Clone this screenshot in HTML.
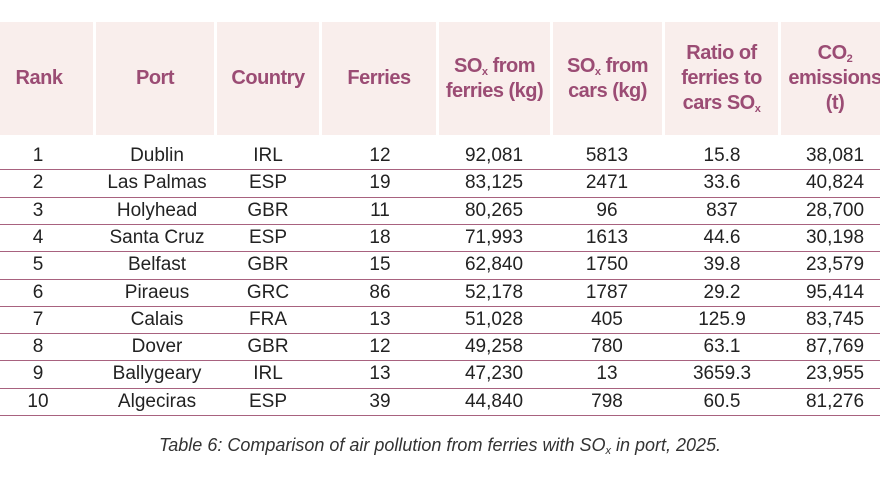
<!DOCTYPE html>
<html><head><meta charset="utf-8"><style>
body{margin:0;width:880px;height:495px;background:#fff;overflow:hidden;font-family:"Liberation Sans",sans-serif;position:relative}
.hb{position:absolute;top:22px;height:113px;background:#f9eeec}
.h{position:absolute;top:22px;height:113px;display:flex;align-items:center;justify-content:center;text-align:center;color:#9b4c74;font-weight:bold;font-size:20px;line-height:25px;letter-spacing:-0.5px;white-space:nowrap}
.r{position:absolute;left:0;width:880px;height:27.4px;border-bottom:1.5px solid #a8627f;box-sizing:border-box}
.c{position:absolute;top:0;height:26px;line-height:26px;text-align:center;font-size:19px;color:#222}
sub{font-size:11px;vertical-align:-3px;line-height:0}
.cap{position:absolute;top:435px;left:0;width:880px;text-align:center;font-style:italic;font-size:18px;color:#333}
</style></head><body>
<div class="hb" style="left:0;width:93px"></div>
<div class="hb" style="left:96px;width:118px"></div>
<div class="hb" style="left:217px;width:102px"></div>
<div class="hb" style="left:322px;width:114px"></div>
<div class="hb" style="left:439px;width:111px"></div>
<div class="hb" style="left:553px;width:109px"></div>
<div class="hb" style="left:665px;width:113px"></div>
<div class="hb" style="left:781px;width:99px"></div>
<div class="h" style="left:0;width:78px"><div>Rank</div></div>
<div class="h" style="left:96px;width:118px"><div>Port</div></div>
<div class="h" style="left:217px;width:102px"><div>Country</div></div>
<div class="h" style="left:322px;width:114px"><div>Ferries</div></div>
<div class="h" style="left:437px;width:115px"><div>SO<sub>x</sub> from<br>ferries (kg)</div></div>
<div class="h" style="left:551px;width:113px"><div>SO<sub>x</sub> from<br>cars (kg)</div></div>
<div class="h" style="left:663px;width:117px"><div>Ratio of<br>ferries to<br>cars SO<sub>x</sub></div></div>
<div class="h" style="left:779px;width:112px"><div>CO<sub>2</sub><br>emissions<br>(t)</div></div>
<div id="rows"></div>
<div class="cap">Table 6: Comparison of air pollution from ferries with SO<sub>x</sub> in port, 2025.</div>
<script>
var d=[["1","Dublin","IRL","12","92,081","5813","15.8","38,081"],["2","Las Palmas","ESP","19","83,125","2471","33.6","40,824"],["3","Holyhead","GBR","11","80,265","96","837","28,700"],["4","Santa Cruz","ESP","18","71,993","1613","44.6","30,198"],["5","Belfast","GBR","15","62,840","1750","39.8","23,579"],["6","Piraeus","GRC","86","52,178","1787","29.2","95,414"],["7","Calais","FRA","13","51,028","405","125.9","83,745"],["8","Dover","GBR","12","49,258","780","63.1","87,769"],["9","Ballygeary","IRL","13","47,230","13","3659.3","23,955"],["10","Algeciras","ESP","39","44,840","798","60.5","81,276"]];
var cx=[38,157,268,380,494,607,722,835],h="";
d.forEach(function(r,i){h+='<div class="r" style="top:'+(143+i*27.3)+'px">';r.forEach(function(v,j){h+='<div class="c" style="left:'+(cx[j]-60)+'px;width:120px">'+v+'</div>'});h+='</div>'});
document.getElementById("rows").innerHTML=h;
</script>
</body></html>
